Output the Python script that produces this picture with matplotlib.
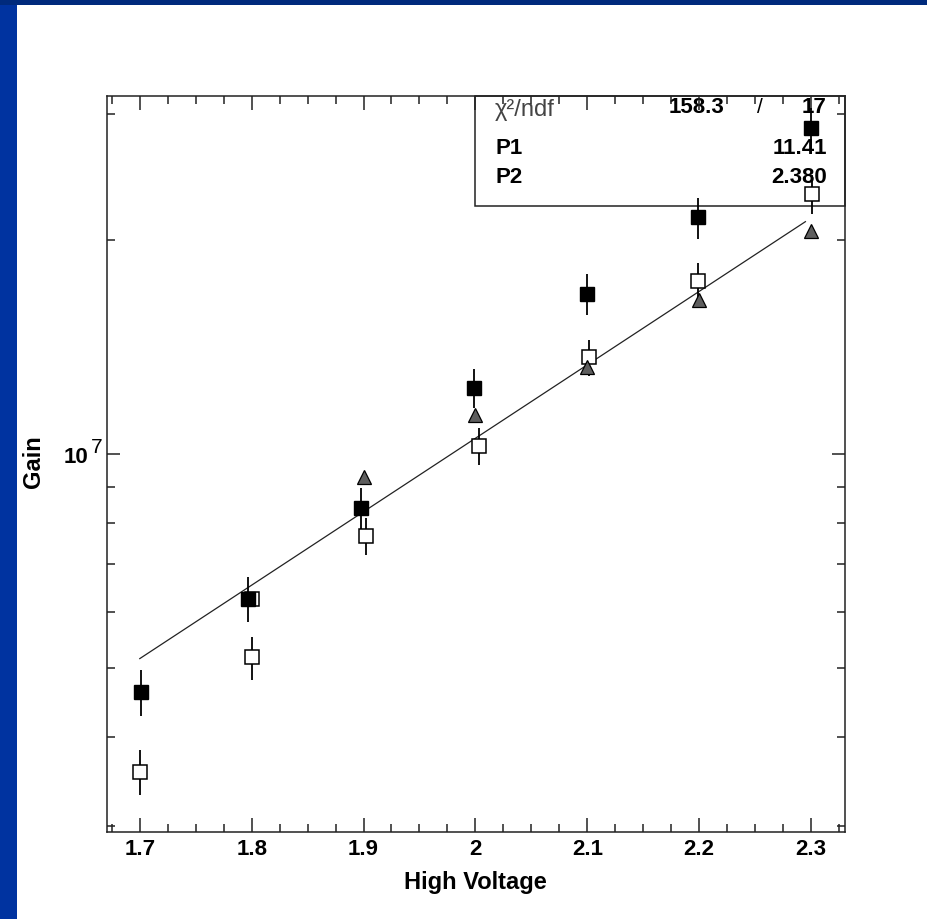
import matplotlib
matplotlib.use("Agg")
import matplotlib.pyplot as plt
from matplotlib.patches import Rectangle
from matplotlib.ticker import MultipleLocator, FixedLocator, NullFormatter
import matplotlib.transforms as mtransforms

# ---------------- data ----------------
# filled squares
filled_x = [1.701, 1.797, 1.898, 1.999, 2.0996, 2.1988, 2.300]
filled_y = [4.63e6, 6.26e6, 8.39e6, 1.237e7, 1.678e7, 2.149e7, 2.87e7]
filled_err = [0.34e6, 0.45e6, 0.57e6, 0.78e6, 1.10e6, 1.42e6, 1.9e6]

# open squares
open_x = [1.700, 1.800, 1.902, 2.003, 2.102, 2.199, 2.301]
open_y = [3.58e6, 5.18e6, 7.68e6, 1.027e7, 1.367e7, 1.752e7, 2.318e7]
open_err = [0.26e6, 0.36e6, 0.46e6, 0.62e6, 0.80e6, 1.00e6, 1.45e6]

# extra open square (partly hidden) at 1.8
extra_x = [1.800]
extra_y = [6.26e6]

# hatched triangles
tri_x = [1.9006, 2.000, 2.100, 2.200, 2.300]
tri_y = [9.27e6, 1.134e7, 1.326e7, 1.647e7, 2.059e7]

# fit line endpoints (exponential -> straight on log axis)
fit_x = [1.700, 2.295]
fit_y = [5.16e6, 2.12e7]

x_ticks = [1.7, 1.8, 1.9, 2.0, 2.1, 2.2, 2.3]
x_tick_labels = ["1.7", "1.8", "1.9", "2", "2.1", "2.2", "2.3"]
y_minor = [3e6, 4e6, 5e6, 6e6, 7e6, 8e6, 9e6, 2e7, 3e7]

stats_rows = [("P1", "11.41"), ("P2", "2.380")]
chi2_val, ndf_val = "158.3", "17"

# ---------------- figure ----------------
FONT = "Liberation Sans"
plt.rcParams["font.family"] = [FONT, "DejaVu Sans"]
plt.rcParams["hatch.linewidth"] = 0.8
plt.rcParams["hatch.color"] = "white"

fig = plt.figure(figsize=(9.27, 9.20), dpi=100)
fig.patch.set_facecolor("white")
# blue frame (left and top)
fig.patches.append(Rectangle((0, 0), 17 / 927, 1, transform=fig.transFigure,
                             facecolor="#0033a0", edgecolor="none", zorder=0))
fig.patches.append(Rectangle((0, 1 - 5.5 / 920), 1, 5.5 / 920, transform=fig.transFigure,
                             facecolor="#002a7c", edgecolor="none", zorder=0))

ax = fig.add_axes([107 / 927, 87.3 / 920, 738 / 927, 735.7 / 920])
ax.set_yscale("log")
ax.set_xlim(1.6707, 2.3304)
ax.set_ylim(2.948e6, 3.183e7)

for sp in ax.spines.values():
    sp.set_linewidth(1.1)
    sp.set_color("#222222")

# fit line
ax.plot(fit_x, fit_y, color="#222222", lw=0.9, zorder=2)

# error bars + markers
ax.errorbar(open_x, open_y, yerr=open_err, fmt="none", ecolor="black",
            elinewidth=1.3, capsize=0, zorder=3)
ax.errorbar(filled_x, filled_y, yerr=filled_err, fmt="none", ecolor="black",
            elinewidth=1.3, capsize=0, zorder=3)
ax.plot(extra_x, extra_y, linestyle="none", marker="s", markersize=9.6,
        markerfacecolor="white", markeredgecolor="black", markeredgewidth=1.1,
        zorder=4)
ax.plot(open_x, open_y, linestyle="none", marker="s", markersize=9.4,
        markerfacecolor="white", markeredgecolor="black", markeredgewidth=1.1,
        zorder=5)
ax.plot(tri_x, tri_y, linestyle="none", marker="^", markersize=10.5,
        markerfacecolor="#5e5e5e", markeredgecolor="black", markeredgewidth=0.9,
        zorder=5)
ax.plot(filled_x, filled_y, linestyle="none", marker="s", markersize=9.4,
        markerfacecolor="black", markeredgecolor="black", markeredgewidth=1.0,
        zorder=6)

# ticks
ax.xaxis.set_major_locator(FixedLocator(x_ticks))
ax.set_xticklabels(x_tick_labels)
ax.xaxis.set_minor_locator(MultipleLocator(0.025))
ax.yaxis.set_major_locator(FixedLocator([1e7]))
ax.set_yticklabels(["10"])
ax.yaxis.set_minor_locator(FixedLocator(y_minor))
ax.yaxis.set_minor_formatter(NullFormatter())

ax.tick_params(axis="both", which="both", direction="in", top=True, right=True,
               width=1.1, color="#222222")
ax.tick_params(axis="x", which="major", length=10, pad=4.5)
ax.tick_params(axis="x", which="minor", length=6)
ax.tick_params(axis="y", which="major", length=9.5, pad=13.5)
ax.tick_params(axis="y", which="minor", length=5.5)
for lab in ax.get_xticklabels() + ax.get_yticklabels():
    lab.set_fontweight("bold")
    lab.set_fontsize(16)

# superscript exponent of 10^7
trans = mtransforms.blended_transform_factory(ax.transAxes, ax.transData)
ax.annotate("7", xy=(0, 1e7), xycoords=trans, xytext=(-7.5, 5.5),
            textcoords="offset points", ha="center", va="center",
            fontsize=15, fontweight="normal", annotation_clip=False)

# axis labels
ax.set_xlabel("High Voltage", fontsize=17, fontweight="bold", va="top")
ax.xaxis.set_label_coords(0.499, -0.052)
ax.set_ylabel("Gain", fontsize=17, fontweight="bold")
ax.yaxis.set_label_coords(-0.084, 0.505)

# stats box
box_left, box_bottom = 0.4986, 0.851
ax.add_patch(Rectangle((box_left, box_bottom), 1 - box_left, 1 - box_bottom,
                       transform=ax.transAxes, fill=False, edgecolor="#222222",
                       linewidth=1.1, zorder=1, clip_on=False))
ax.text(0.526, 0.982, "χ²/ndf", transform=ax.transAxes, fontsize=17,
        fontweight="light", ha="left", va="center", color="#444444", zorder=1)
ax.text(0.837, 0.986, chi2_val, transform=ax.transAxes, fontsize=16,
        fontweight="bold", ha="right", va="center", zorder=1)
ax.text(0.885, 0.986, "/", transform=ax.transAxes, fontsize=15,
        fontweight="normal", ha="center", va="center", zorder=1)
ax.text(0.9756, 0.986, ndf_val, transform=ax.transAxes, fontsize=16,
        fontweight="bold", ha="right", va="center", zorder=1)
row_y = [0.930, 0.891]
for (name, val), yy in zip(stats_rows, row_y):
    ax.text(0.526, yy, name, transform=ax.transAxes, fontsize=16,
            fontweight="bold", ha="left", va="center", zorder=1)
    ax.text(0.9756, yy, val, transform=ax.transAxes, fontsize=16,
            fontweight="bold", ha="right", va="center", zorder=1)

fig.savefig("out.png", dpi=100, facecolor=fig.get_facecolor())
